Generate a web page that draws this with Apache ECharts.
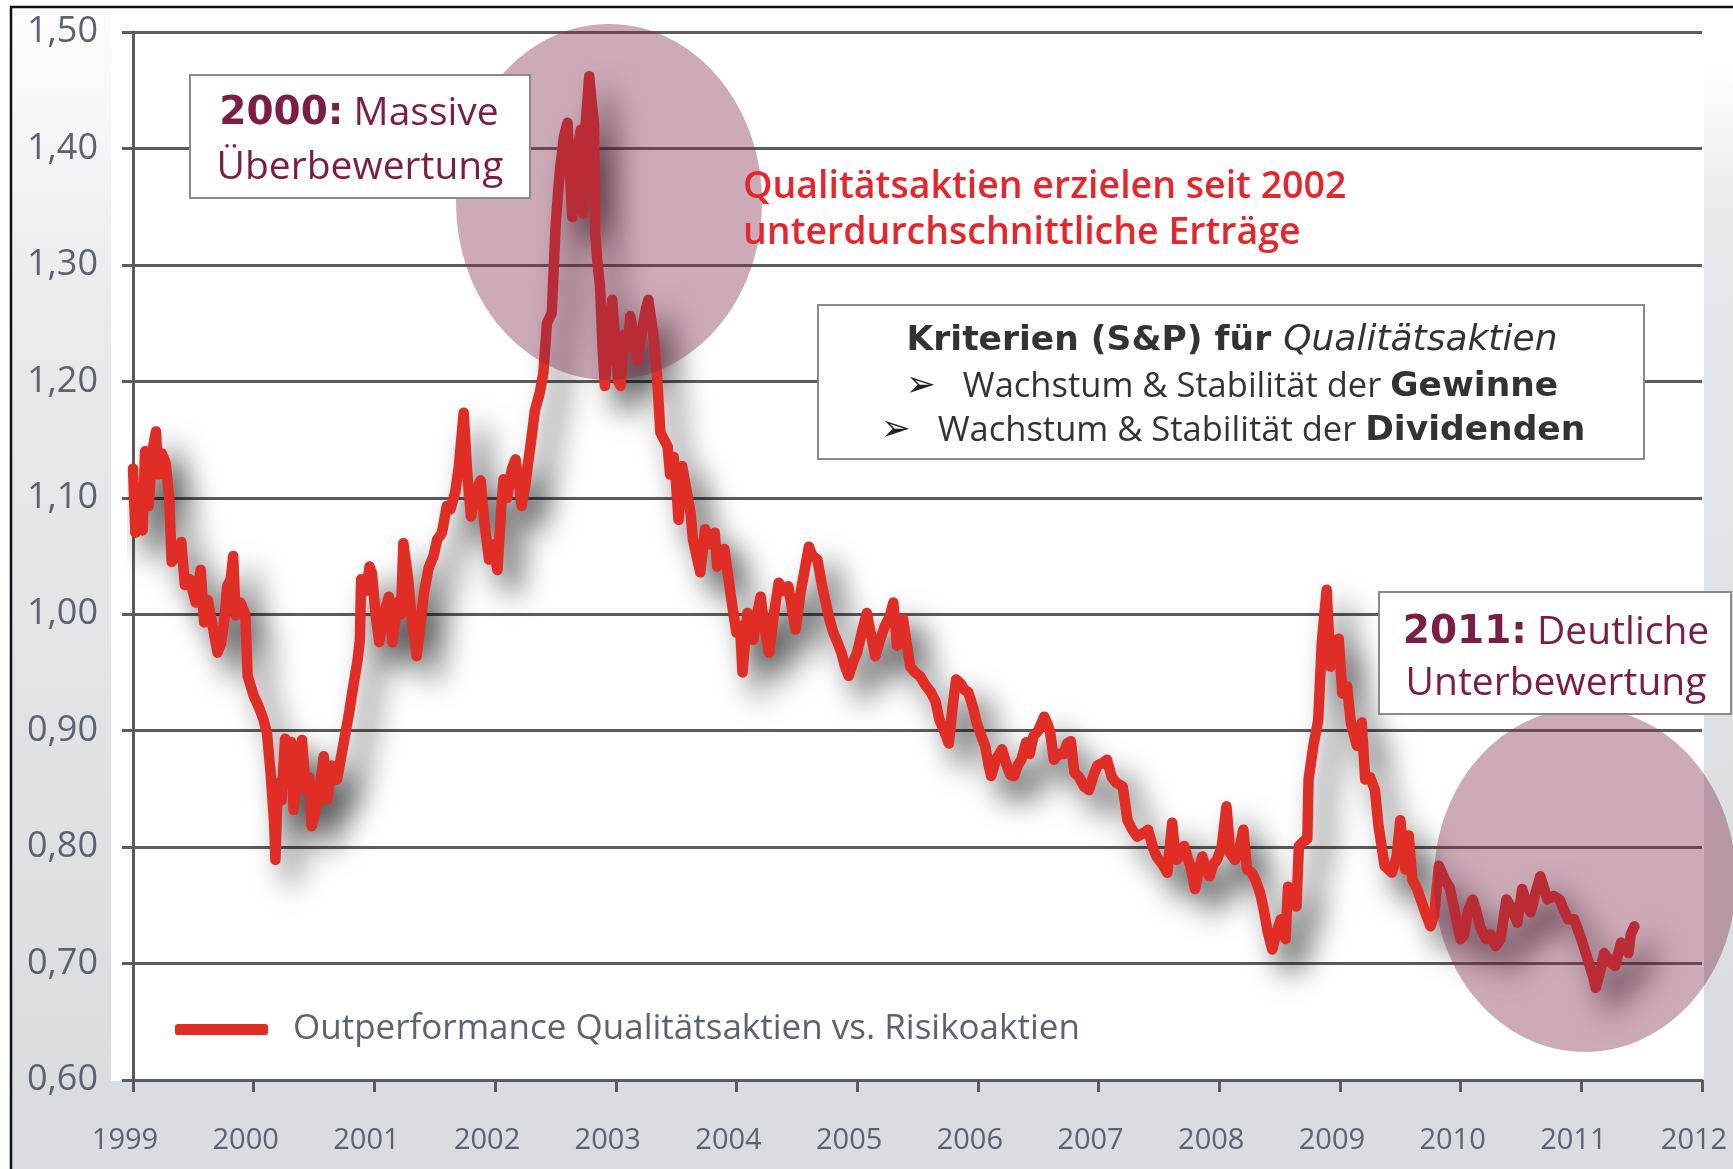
<!DOCTYPE html>
<html>
<head>
<meta charset="utf-8">
<script src="https://cdn.jsdelivr.net/npm/echarts@6/dist/echarts.min.js"></script>
<style>
html, body { margin: 0; padding: 0; background: #fff; }
#main { width: 1733px; height: 1169px; }
</style>
</head>
<body>
<div id="main"></div>
<script>
var seriesName = 'Outperformance Qualitätsaktien vs. Risikoaktien';

// Zeitpunkte (Dezimaljahre) und Werte
var dates = [
    1999.00,1999.02,1999.05,1999.08,1999.10,1999.13,1999.16,1999.19,1999.21,1999.24,1999.27,1999.30,1999.32,1999.36,1999.40,1999.43,1999.47,1999.52,1999.56,1999.59,1999.62,1999.66,1999.70,1999.73,1999.76,1999.78,1999.81,1999.83,1999.85,1999.89,1999.93,1999.95,
    2000.00,2000.04,2000.08,2000.11,2000.14,2000.17,2000.18,2000.20,2000.23,2000.26,2000.28,2000.31,2000.33,2000.36,2000.40,2000.43,2000.46,2000.48,2000.51,2000.54,2000.58,2000.61,2000.65,2000.69,2000.72,2000.75,2000.79,2000.82,2000.86,2000.88,2000.89,2000.93,2000.96,2000.98,
    2001.01,2001.04,2001.08,2001.12,2001.15,2001.19,2001.22,2001.24,2001.28,2001.31,2001.35,2001.38,2001.41,2001.45,2001.49,2001.52,2001.56,2001.60,2001.63,2001.67,2001.70,2001.72,2001.74,2001.77,2001.80,2001.84,2001.88,2001.91,2001.95,2001.98,
    2002.02,2002.05,2002.07,2002.10,2002.14,2002.17,2002.20,2002.22,2002.25,2002.27,2002.30,2002.33,2002.37,2002.40,2002.43,2002.47,2002.50,2002.52,2002.54,2002.57,2002.60,2002.62,2002.64,2002.67,2002.71,2002.73,2002.75,2002.78,2002.80,2002.82,2002.83,2002.85,2002.87,2002.89,2002.91,2002.94,2002.97,
    2003.00,2003.02,2003.04,2003.07,2003.10,2003.12,2003.15,2003.18,2003.22,2003.25,2003.27,2003.31,2003.34,2003.37,2003.40,2003.43,2003.45,2003.48,2003.50,2003.52,2003.55,2003.58,2003.62,2003.64,2003.67,2003.70,2003.74,2003.78,2003.82,2003.84,2003.87,2003.90,2003.95,
    2004.00,2004.03,2004.05,2004.09,2004.12,2004.14,2004.17,2004.20,2004.23,2004.27,2004.31,2004.35,2004.39,2004.43,2004.46,2004.49,2004.53,2004.56,2004.60,2004.63,2004.67,2004.71,2004.74,2004.77,2004.80,2004.84,2004.87,2004.90,2004.93,2004.97,
    2005.00,2005.04,2005.08,2005.11,2005.15,2005.19,2005.23,2005.27,2005.30,2005.33,2005.36,2005.38,2005.41,2005.44,2005.48,2005.52,2005.56,2005.61,2005.65,2005.68,2005.72,2005.76,2005.79,2005.82,2005.86,2005.89,2005.92,2005.96,2005.99,
    2006.03,2006.06,2006.09,2006.11,2006.15,2006.20,2006.24,2006.27,2006.30,2006.33,2006.36,2006.40,2006.43,2006.46,2006.50,2006.55,2006.58,2006.60,2006.63,2006.67,2006.71,2006.74,2006.77,2006.80,2006.84,2006.88,2006.92,2006.96,2006.99,
    2007.03,2007.07,2007.11,2007.15,2007.20,2007.24,2007.28,2007.32,2007.37,2007.41,2007.45,2007.48,2007.53,2007.57,2007.61,2007.63,2007.65,2007.68,2007.71,2007.74,2007.76,2007.80,2007.83,2007.86,2007.89,2007.92,2007.95,2007.98,
    2008.02,2008.06,2008.08,2008.09,2008.13,2008.17,2008.20,2008.23,2008.27,2008.30,2008.34,2008.37,2008.40,2008.44,2008.47,2008.51,2008.55,2008.57,2008.60,2008.64,2008.66,2008.70,2008.73,2008.74,2008.78,2008.82,2008.85,2008.89,2008.91,2008.92,2008.95,2008.99,
    2009.02,2009.06,2009.09,2009.14,2009.18,2009.21,2009.25,2009.29,2009.32,2009.37,2009.43,2009.47,2009.50,2009.54,2009.57,2009.60,2009.64,2009.70,2009.75,2009.78,2009.82,2009.87,2009.91,2009.95,
    2010.00,2010.03,2010.06,2010.10,2010.13,2010.16,2010.21,2010.25,2010.29,2010.33,2010.38,2010.42,2010.47,2010.51,2010.55,2010.58,2010.62,2010.66,2010.69,2010.72,2010.77,2010.82,2010.86,2010.89,2010.94,
    2011.00,2011.04,2011.07,2011.10,2011.12,2011.16,2011.19,2011.24,2011.28,2011.33,2011.37,2011.39,2011.41,2011.44
];
var values = [
    1.125,1.070,1.078,1.072,1.140,1.093,1.140,1.157,1.120,1.138,1.130,1.100,1.045,1.050,1.062,1.025,1.030,1.010,1.038,0.993,1.012,0.990,0.967,0.975,0.998,1.024,1.030,1.050,0.999,1.010,1.000,0.947,
    0.930,0.921,0.910,0.898,0.864,0.820,0.789,0.855,0.840,0.893,0.870,0.890,0.832,0.860,0.892,0.850,0.860,0.818,0.830,0.845,0.878,0.841,0.870,0.858,0.875,0.892,0.915,0.935,0.960,0.978,1.030,1.020,1.041,1.035,
    1.000,0.976,1.000,1.015,0.976,1.010,1.000,1.061,1.030,0.995,0.964,0.990,1.018,1.040,1.050,1.064,1.070,1.093,1.090,1.105,1.127,1.150,1.173,1.120,1.084,1.105,1.115,1.080,1.047,1.060,
    1.038,1.090,1.116,1.100,1.125,1.133,1.110,1.093,1.110,1.127,1.150,1.175,1.190,1.207,1.250,1.259,1.330,1.360,1.384,1.410,1.422,1.380,1.341,1.390,1.416,1.344,1.420,1.462,1.440,1.422,1.327,1.300,1.281,1.230,1.196,1.240,1.270,
    1.230,1.200,1.196,1.240,1.230,1.256,1.235,1.218,1.245,1.262,1.270,1.241,1.207,1.156,1.150,1.144,1.120,1.135,1.112,1.081,1.127,1.110,1.087,1.064,1.050,1.036,1.073,1.060,1.070,1.041,1.050,1.056,1.018,
    0.984,0.990,0.950,1.001,0.990,0.978,1.000,1.015,0.990,0.967,1.000,1.027,1.020,1.024,1.005,0.987,1.018,1.035,1.058,1.050,1.047,1.024,1.010,0.996,0.985,0.975,0.967,0.955,0.947,0.960,
    0.967,0.985,1.001,0.985,0.964,0.978,0.990,0.998,1.010,0.973,0.990,0.996,0.975,0.955,0.950,0.947,0.940,0.933,0.925,0.910,0.900,0.889,0.920,0.944,0.940,0.935,0.933,0.920,0.907,
    0.895,0.887,0.870,0.861,0.875,0.884,0.870,0.862,0.861,0.870,0.875,0.890,0.880,0.895,0.900,0.912,0.905,0.898,0.875,0.880,0.880,0.889,0.891,0.864,0.860,0.852,0.849,0.862,0.870,
    0.872,0.875,0.860,0.855,0.852,0.823,0.815,0.809,0.812,0.815,0.800,0.792,0.785,0.778,0.821,0.800,0.789,0.795,0.801,0.790,0.784,0.764,0.780,0.792,0.780,0.775,0.785,0.789,
    0.800,0.835,0.810,0.795,0.789,0.800,0.815,0.781,0.778,0.772,0.760,0.746,0.728,0.712,0.725,0.738,0.721,0.766,0.755,0.749,0.801,0.805,0.807,0.858,0.887,0.909,0.976,1.021,0.980,0.955,0.976,0.979,
    0.932,0.938,0.907,0.887,0.907,0.858,0.860,0.849,0.818,0.784,0.778,0.792,0.823,0.781,0.810,0.772,0.764,0.746,0.732,0.741,0.784,0.772,0.765,0.745,
    0.721,0.725,0.745,0.755,0.745,0.732,0.721,0.725,0.715,0.721,0.755,0.748,0.735,0.764,0.750,0.744,0.760,0.775,0.765,0.755,0.758,0.755,0.745,0.738,0.738,
    0.721,0.708,0.698,0.688,0.679,0.695,0.709,0.701,0.698,0.718,0.712,0.709,0.725,0.732
];

var red = '#e02d26';
var wine = '#7a1e45';
var axisGrey = '#5c5c5c';
var labelGrey = '#5b6370';

var myChart = echarts.init(document.getElementById('main'));

var leftBand = new echarts.graphic.LinearGradient(0, 0, 0, 1, [
    {offset: 0, color: '#fdfdfd'},
    {offset: 0.3, color: '#e8eaec'},
    {offset: 1, color: '#dadde0'}
]);
var rightBand = new echarts.graphic.LinearGradient(0, 0, 0, 1, [
    {offset: 0, color: '#ffffff'},
    {offset: 0.05, color: '#ffffff'},
    {offset: 0.2, color: '#e6e8ea'},
    {offset: 1, color: '#d9dce0'}
]);

// Pfeil + Text für die Kriterien-Zeilen
var bulletRich = {
    a: {fontFamily: 'DejaVu Sans', fontSize: 36, width: 57, align: 'left', fill: '#222'},
    r: {fontFamily: 'Open Sans', fontSize: 34.5, fill: '#333'},
    b: {fontFamily: 'DejaVu Sans', fontWeight: 'bold', fontSize: 34.5, fill: '#333'}
};

myChart.setOption({
    animation: false,
    backgroundColor: '#ffffff',
    grid: {
        left: 133,
        right: 31,
        top: 32,
        bottom: 89
    },
    legend: {
        left: 170,
        top: 1007,
        icon: 'roundRect',
        itemWidth: 93,
        itemHeight: 11,
        itemStyle: {color: red, shadowBlur: 0, borderWidth: 0},
        textStyle: {
            color: labelGrey,
            fontSize: 35,
            fontFamily: 'Open Sans',
            padding: [0, 0, 0, 20]
        },
        data: [seriesName]
    },
    xAxis: {
        type: 'value',
        min: 1999,
        max: 2012,
        interval: 1,
        axisLine: {show: true, onZero: false, lineStyle: {color: axisGrey, width: 3}},
        axisTick: {show: true, length: 12, lineStyle: {color: axisGrey, width: 3}},
        splitLine: {show: false},
        axisLabel: {
            margin: 46,
            color: labelGrey,
            fontSize: 29,
            fontFamily: 'Open Sans',
            padding: [0, 16, 0, 0],
            formatter: function (v) { return String(v); }
        }
    },
    yAxis: {
        type: 'value',
        min: 0.6,
        max: 1.5,
        interval: 0.1,
        axisLine: {show: true, onZero: false, lineStyle: {color: axisGrey, width: 3}},
        axisTick: {show: true, length: 11, lineStyle: {color: axisGrey, width: 3}},
        splitLine: {show: true, lineStyle: {color: axisGrey, width: 3}},
        axisLabel: {
            margin: 35,
            color: labelGrey,
            fontSize: 36,
            fontFamily: 'Open Sans',
            formatter: function (v) { return v.toFixed(2).replace('.', ','); }
        }
    },
    series: [{
        name: seriesName,
        type: 'line',
        showSymbol: false,
        symbol: 'none',
        data: dates.map(function (d, i) { return [d, values[i]]; }),
        itemStyle: {color: red},
        lineStyle: {
            color: red,
            width: 10.5,
            cap: 'round',
            join: 'round',
            shadowColor: 'rgba(0,0,0,0.7)',
            shadowBlur: 30,
            shadowOffsetX: 16,
            shadowOffsetY: 20
        }
    }],
    graphic: [
        // Hintergrund
        {type: 'rect', z: -10, shape: {x: 11, y: 7, width: 100, height: 1075}, style: {fill: leftBand}},
        {type: 'rect', z: -10, shape: {x: 11, y: 1081, width: 1722, height: 88}, style: {fill: '#d9dce0'}},
        {type: 'rect', z: -10, shape: {x: 1704, y: 7, width: 29, height: 1075}, style: {fill: rightBand}},
        {type: 'polyline', z: 50, shape: {points: [[11, 1169], [11, 7], [1733, 7]]}, style: {stroke: '#111', lineWidth: 2.5, fill: null}},

        // Ellipsen
        {type: 'ellipse', z: 10, shape: {cx: 609, cy: 202, rx: 153, ry: 178}, style: {fill: 'rgba(130,42,77,0.4)'}},
        {type: 'ellipse', z: 10, shape: {cx: 1585, cy: 880, rx: 151, ry: 172}, style: {fill: 'rgba(130,42,77,0.4)'}},

        // Box 2000
        {type: 'rect', z: 20, shape: {x: 190, y: 75, width: 340, height: 123}, style: {fill: '#fff', stroke: '#8a8a8a', lineWidth: 2}},
        {type: 'text', z: 21, x: 359, y: 114, style: {
            text: '{b|2000:} Massive', align: 'center', verticalAlign: 'middle',
            fontSize: 39, fontFamily: 'Open Sans', fill: wine,
            rich: {b: {fontFamily: 'DejaVu Sans', fontWeight: 'bold', fontSize: 39, fill: wine}}
        }},
        {type: 'text', z: 21, x: 360, y: 168, style: {
            text: 'Überbewertung', align: 'center', verticalAlign: 'middle',
            fontSize: 39, fontFamily: 'Open Sans', fill: wine
        }},

        // roter Hinweis
        {type: 'text', z: 21, x: 743, y: 187, style: {
            text: 'Qualitätsaktien erzielen seit 2002', align: 'left', verticalAlign: 'middle',
            fontSize: 37.5, fontWeight: 600, fontFamily: 'Open Sans', fill: '#e2282c'
        }},
        {type: 'text', z: 21, x: 743, y: 233, style: {
            text: 'unterdurchschnittliche Erträge', align: 'left', verticalAlign: 'middle',
            fontSize: 37.5, fontWeight: 600, fontFamily: 'Open Sans', fill: '#e2282c'
        }},

        // Kriterien-Box
        {type: 'rect', z: 20, shape: {x: 818, y: 305, width: 826, height: 154}, style: {fill: '#fff', stroke: '#8a8a8a', lineWidth: 2}},
        {type: 'text', z: 21, x: 1232, y: 341, style: {
            text: '{b|Kriterien (S&P) für }{i|Qualitätsaktien}', align: 'center', verticalAlign: 'middle',
            fill: '#333',
            rich: {
                b: {fontFamily: 'DejaVu Sans', fontWeight: 'bold', fontSize: 34.5, fill: '#333'},
                i: {fontFamily: 'DejaVu Sans', fontStyle: 'italic', fontSize: 36, fill: '#333'}
            }
        }},
        {type: 'text', z: 21, x: 1232, y: 387, style: {
            text: '{a|➢}{r|Wachstum & Stabilität der }{b|Gewinne}', align: 'center', verticalAlign: 'middle',
            fill: '#333', rich: bulletRich
        }},
        {type: 'text', z: 21, x: 1233, y: 431, style: {
            text: '{a|➢}{r|Wachstum & Stabilität der }{b|Dividenden}', align: 'center', verticalAlign: 'middle',
            fill: '#333', rich: bulletRich
        }},

        // Box 2011
        {type: 'rect', z: 20, shape: {x: 1379, y: 592, width: 352, height: 122}, style: {fill: '#fff', stroke: '#8a8a8a', lineWidth: 2}},
        {type: 'text', z: 21, x: 1556, y: 633, style: {
            text: '{b|2011:} Deutliche', align: 'center', verticalAlign: 'middle',
            fontSize: 39, fontFamily: 'Open Sans', fill: wine,
            rich: {b: {fontFamily: 'DejaVu Sans', fontWeight: 'bold', fontSize: 39, fill: wine}}
        }},
        {type: 'text', z: 21, x: 1556, y: 684, style: {
            text: 'Unterbewertung', align: 'center', verticalAlign: 'middle',
            fontSize: 39, fontFamily: 'Open Sans', fill: wine
        }}
    ]
});
</script>
</body>
</html>
